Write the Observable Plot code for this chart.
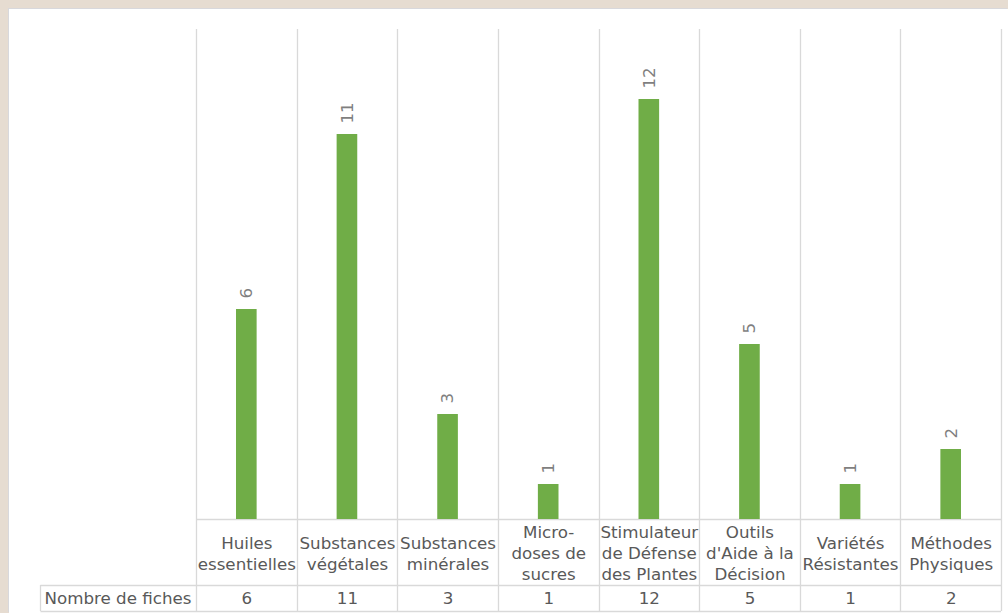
<!DOCTYPE html>
<html>
<head>
<meta charset="utf-8">
<script src="https://cdn.jsdelivr.net/npm/d3@7"></script>
<script src="https://cdn.jsdelivr.net/npm/@observablehq/plot@0.6"></script>
<style>
  html, body { margin: 0; padding: 0; }
  body { background: #e6dcd1; width: 1008px; height: 613px; overflow: hidden; position: relative; }
  #panel { position: absolute; left: 9px; top: 9px; width: 999px; height: 604px; background: #ffffff; box-shadow: -1px -1px 0 #d8d8dc; }
  #panel svg { display: block; }
</style>
</head>
<body>
<div id="panel"></div>
<script>
const categories = ["Huiles essentielles", "Substances végétales", "Substances minérales", "Micro-doses de sucres", "Stimulateur de Défense des Plantes", "Outils d'Aide à la Décision", "Variétés Résistantes", "Méthodes Physiques"];
const tickLabels = ["Huiles\nessentielles", "Substances\nvégétales", "Substances\nminérales", "Micro-\ndoses de\nsucres", "Stimulateur\nde Défense\ndes Plantes", "Outils\nd'Aide à la\nDécision", "Variétés\nRésistantes", "Méthodes\nPhysiques"];
const values = [6, 11, 3, 1, 12, 5, 1, 2];
const seriesName = "Nombre de fiches";
const yMax = 14;

const data = categories.map((c, i) => ({category: c, label: tickLabels[i], value: values[i]}));

const textColor = "#595959";
const gridColor = "#d9d9d9";
const barColor = "#70ad47";
const fs = 16.7;
const catRowH = 66, valRowH = 26, tableLeftExtra = 156;

function tableLines(index, scales, vals, dims) {
  const {x, y} = scales;
  const n = categories.length;
  const left = dims.marginLeft, right = dims.width - dims.marginRight;
  const step = (right - left) / n;
  const yTop = y(yMax), yBase = y(0), yRow = yBase + catRowH, yBot = yRow + valRowH;
  const g = d3.create("svg:g").attr("stroke", gridColor).attr("stroke-width", 1.3).attr("fill", "none");
  for (let i = 0; i <= n; i++) {
    const xb = Math.round(i < n ? x(categories[i]) : x(categories[n - 1]) + step) + 0.5;
    g.append("line").attr("x1", xb).attr("x2", xb).attr("y1", yTop).attr("y2", yBot);
  }
  const xl = left - tableLeftExtra + 0.5;
  g.append("line").attr("x1", left).attr("x2", right).attr("y1", Math.round(yBase) + 0.5).attr("y2", Math.round(yBase) + 0.5);
  g.append("line").attr("x1", xl).attr("x2", right).attr("y1", Math.round(yRow) + 0.5).attr("y2", Math.round(yRow) + 0.5);
  g.append("line").attr("x1", xl).attr("x2", right).attr("y1", Math.round(yBot) + 0.5).attr("y2", Math.round(yBot) + 0.5);
  g.append("line").attr("x1", xl).attr("x2", xl).attr("y1", yRow).attr("y2", yBot);
  return g.node();
}

const chart = Plot.plot({
  width: 999,
  height: 604,
  marginLeft: 187,
  marginRight: 7,
  marginTop: 20,
  marginBottom: 94,
  style: {fontFamily: "'DejaVu Sans', Verdana, sans-serif", fontSize: fs + "px", background: "white", overflow: "visible"},
  x: {type: "band", domain: categories, padding: 0, round: false, axis: null},
  y: {domain: [0, yMax], axis: null},
  marks: [
    tableLines,
    Plot.barY(data, {x: "category", y: "value", fill: barColor, insetLeft: 40, insetRight: 40}),
    Plot.text(data, {x: "category", y: "value", text: d => String(d.value), rotate: -90, textAnchor: "start", lineAnchor: "middle", dy: -11, fill: "#7f7f7f", fontSize: fs}),
    Plot.text(data, {x: "category", y: () => 0, text: "label", dy: catRowH / 2, lineAnchor: "middle", lineHeight: 1.26, fill: textColor, fontSize: fs}),
    Plot.text(data, {x: "category", y: () => 0, text: d => String(d.value), dy: catRowH + valRowH / 2, lineAnchor: "middle", fill: textColor, fontSize: fs}),
    Plot.text([seriesName], {frameAnchor: "left", y: () => 0, text: d => d, dx: -tableLeftExtra + 4, dy: catRowH + valRowH / 2, textAnchor: "start", lineAnchor: "middle", fill: textColor, fontSize: fs})
  ]
});
document.getElementById("panel").appendChild(chart);
</script>
</body>
</html>
